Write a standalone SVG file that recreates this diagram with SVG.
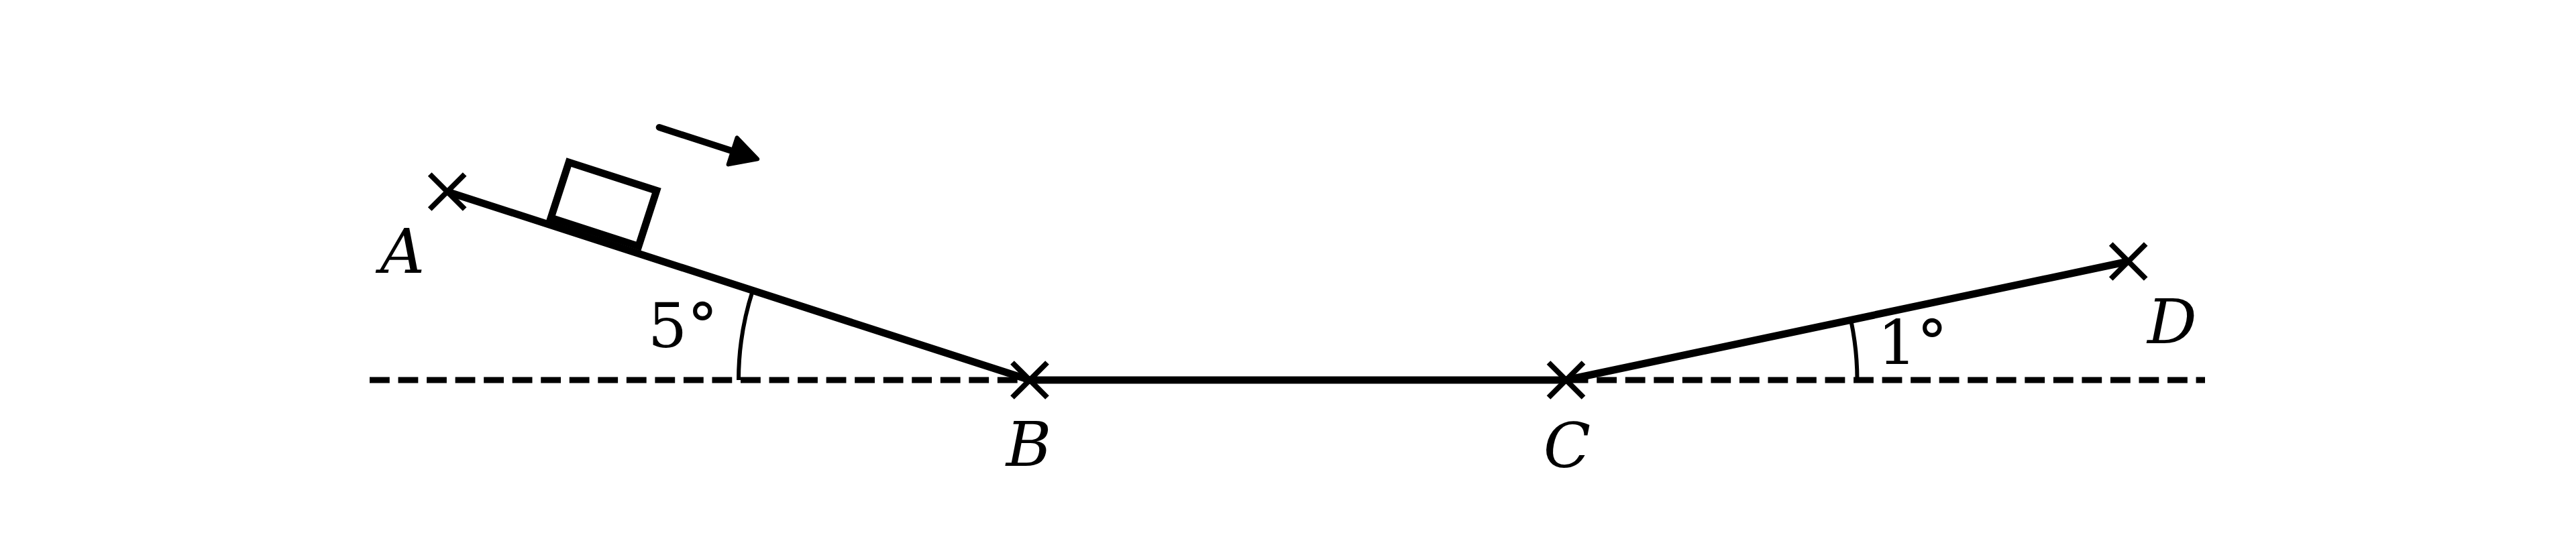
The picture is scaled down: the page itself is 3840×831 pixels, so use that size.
<svg xmlns="http://www.w3.org/2000/svg" width="3840" height="831" viewBox="0 0 3840 831">
<style>
.lbl{font-family:"DejaVu Serif","Liberation Serif",serif;font-style:italic;font-size:92px;fill:#000}
.ang{font-family:"DejaVu Serif","Liberation Serif",serif;font-size:92px;fill:#000}
.cross{stroke:#000;stroke-width:8;fill:none}
.main{stroke:#000;stroke-width:11;fill:none;stroke-linejoin:round}
.arc{stroke:#000;stroke-width:6;fill:none}
</style>
<defs>
<path id="x" d="M-26,-26 L26,26 M-26,26 L26,-26"/>
</defs>
<rect width="3840" height="831" fill="#fff"/>
<g id="connectors">
<line x1="551" y1="567" x2="3287" y2="567" stroke="#000" stroke-width="9" stroke-dasharray="29.8 12.74"/>
<polyline class="main" points="666.7,286 1535,567 2334.5,567 3172.7,390"/>
<path class="arc" d="M1101,567 A434,434 0 0 1 1122.1,433.3"/>
<path class="arc" d="M2768.5,567 A434,434 0 0 0 2759.1,477.3"/>
</g>
<g id="block" transform="translate(666.7,286) rotate(17.93)">
<rect x="159" y="-97.6" width="137.4" height="87.3" fill="none" stroke="#000" stroke-width="11"/>
</g>
<g id="arrow" transform="translate(982.7,190) rotate(17.93)">
<line x1="0" y1="0" x2="125" y2="0" stroke="#000" stroke-width="10" stroke-linecap="round"/>
<polygon points="154,0 115,-21 115,21" fill="#000" stroke="#000" stroke-width="6" stroke-linejoin="round"/>
</g>
<g id="A"><use href="#x" class="cross" transform="translate(666.7,286)"/><text class="lbl" x="600" y="407" text-anchor="middle">A</text></g>
<g id="B"><use href="#x" class="cross" transform="translate(1535,567)"/><text class="lbl" x="1533.5" y="695" text-anchor="middle">B</text></g>
<g id="C"><use href="#x" class="cross" transform="translate(2334.5,567)"/><text class="lbl" x="2336" y="697" text-anchor="middle">C</text></g>
<g id="D"><use href="#x" class="cross" transform="translate(3172.7,390)"/><text class="lbl" x="3238" y="512" text-anchor="middle">D</text></g>
<g id="angle5"><text class="ang" x="1018" y="518" text-anchor="middle">5°</text></g>
<g id="angle1"><text class="ang" x="2851" y="543" text-anchor="middle">1°</text></g>
</svg>
